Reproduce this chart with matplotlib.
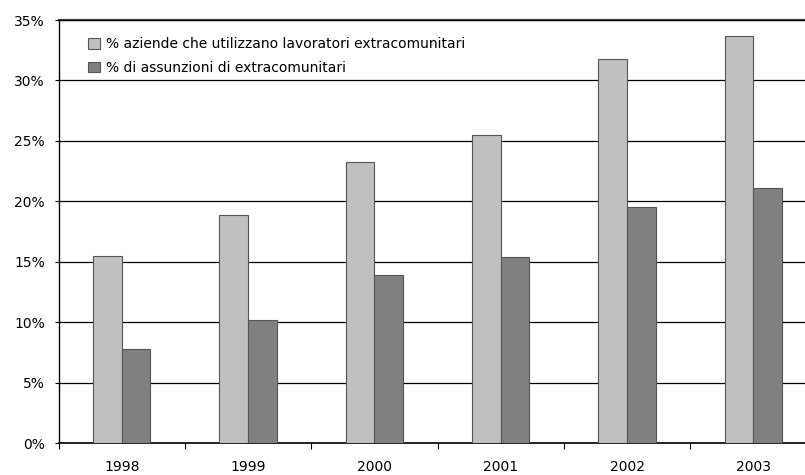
import matplotlib
matplotlib.use("Agg")
import matplotlib.pyplot as plt
from matplotlib.ticker import FuncFormatter, MultipleLocator
import numpy as np

years = ["1998", "1999", "2000", "2001", "2002", "2003"]
aziende = [15.5, 18.85, 23.3, 25.5, 31.8, 33.7]
assunzioni = [7.8, 10.2, 13.9, 15.4, 19.5, 21.1]
series_labels = ["% aziende che utilizzano lavoratori extracomunitari",
                 "% di assunzioni di extracomunitari"]

plt.rcParams["font.family"] = ["DejaVu Sans"]
plt.rcParams["font.size"] = 10

fig = plt.figure(figsize=(8.05, 4.75), dpi=100)
ax = fig.add_axes([58.6 / 805, (475 - 443.3) / 475, 758 / 805, (443.3 - 20) / 475])

x = np.arange(len(years))
w = 0.227
ax.bar(x + 0.5 - w / 2, aziende, width=w, color="#c0c0c0", edgecolor="#555555",
       linewidth=0.8, label=series_labels[0], zorder=3)
ax.bar(x + 0.5 + w / 2, assunzioni, width=w, color="#808080", edgecolor="#555555",
       linewidth=0.8, label=series_labels[1], zorder=3)

ax.set_xlim(0, len(years))
ax.set_ylim(0, 35)
ax.yaxis.set_major_locator(MultipleLocator(5))
ax.yaxis.set_major_formatter(FuncFormatter(lambda v, p: f"{v:.0f}%"))
ax.grid(axis="y", color="black", linewidth=0.9, zorder=0)
ax.axhline(35, color="#444444", linewidth=1.6, zorder=1, clip_on=False)

ax.set_xticks(np.arange(len(years) + 1))
ax.set_xticklabels([])
ax.set_xticks(x + 0.5, minor=True)
ax.set_xticklabels(years, minor=True)
ax.tick_params(axis="x", which="minor", length=0, pad=12, labelsize=10)
ax.tick_params(axis="x", which="major", length=4, color="black", direction="out")
ax.tick_params(axis="y", length=3, color="black", direction="out", pad=7, labelsize=10)

for s in ["top", "right"]:
    ax.spines[s].set_visible(False)
ax.spines["left"].set_color("black")
ax.spines["bottom"].set_color("black")
ax.spines["left"].set_linewidth(1.0)
ax.spines["bottom"].set_linewidth(1.2)

leg = ax.legend(loc="upper left", bbox_to_anchor=(0.032, 0.972), frameon=False,
                handlelength=0.8, handleheight=0.8, handletextpad=0.5,
                labelspacing=0.68, fontsize=10, borderaxespad=0)

fig.savefig("out.png", dpi=100, facecolor="white")
